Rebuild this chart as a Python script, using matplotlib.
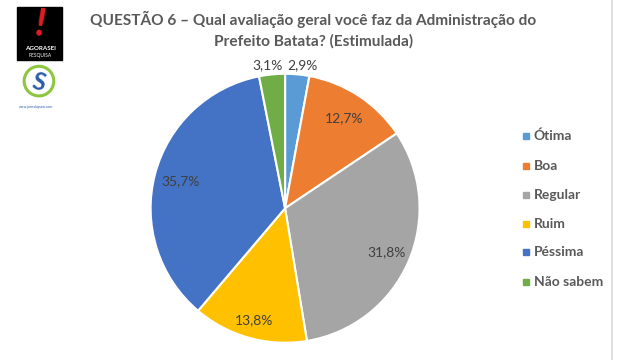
import matplotlib.pyplot as plt
import numpy as np
from matplotlib.patches import Rectangle, Circle

labels = ['Ótima', 'Boa', 'Regular', 'Ruim', 'Péssima', 'Não sabem']
values = [2.9, 12.7, 31.8, 13.8, 35.7, 3.1]
colors = ['#5B9BD5', '#ED7D31', '#A5A5A5', '#FFC000', '#4472C4', '#70AD47']
label_dist = [1.07, 0.8, 0.82, 0.86, 0.8, 1.07]

title = 'QUESTÃO 6 – Qual avaliação geral você faz da Administração do\nPrefeito Batata? (Estimulada)'
TEXT_COLOR = '#595959'

plt.rcParams['font.family'] = ['Lato', 'DejaVu Sans']

fig = plt.figure(figsize=(6.3, 3.6), dpi=100)

# pie
ax = fig.add_axes([0.239, 0.048, 0.427, 0.747])
wedges, _ = ax.pie(values, colors=colors, startangle=90, counterclock=False,
                   wedgeprops=dict(edgecolor='white', linewidth=1.5))
ax.set_xlim(-1, 1)
ax.set_ylim(-1, 1)
ax.set_aspect('equal')
for w, v, d in zip(wedges, values, label_dist):
    ang = np.deg2rad((w.theta1 + w.theta2) / 2)
    txt = f'{v:.1f}%'.replace('.', ',')
    if d > 1:
        # outside labels sit beside the top, away from each other
        side = 1 if np.cos(ang) > 0 else -1
        ax.text(0.02 * side, d * np.sin(ang), txt, ha='left' if side > 0 else 'right',
                va='center', fontsize=10, color='#404040')
    else:
        ax.text(d * np.cos(ang), d * np.sin(ang), txt,
                ha='center', va='center', fontsize=10, color='#404040')

# legend
ys = [136, 166, 195, 224, 252, 282]
for lab, col, y in zip(labels, colors, ys):
    yf = 1 - y / 360
    fig.patches.append(Rectangle((523 / 630, yf - 3 / 360), 6 / 630, 6 / 360,
                                 transform=fig.transFigure, color=col))
    fig.text(534 / 630, yf, lab, ha='left', va='center', fontsize=10,
             fontweight='bold', color=TEXT_COLOR)

fig.text(0.497, 1 - 30 / 360, title, ha='center', va='center', fontsize=11.1,
         fontweight='bold', color=TEXT_COLOR, linespacing=1.5)

# right border line
fig.add_artist(plt.Line2D([612 / 630, 612 / 630], [0, 1], color='#D9D9D9', lw=1.2))

# logos (rough)
fig.patches.append(Rectangle((17 / 630, 1 - 60 / 360), 45 / 630, 53 / 360,
                             transform=fig.transFigure, color='black'))
fig.text(40 / 630, 1 - 25 / 360, '!', ha='center', va='center', fontsize=28,
         fontweight='bold', color='#E31E24', rotation=-10)
fig.text(40 / 630, 1 - 49 / 360, 'AGORASEI', ha='center', va='center',
         fontsize=4.5, fontweight='bold', color='white')
fig.text(40 / 630, 1 - 56 / 360, 'PESQUISA', ha='center', va='center',
         fontsize=3.5, color='white')
lax = fig.add_axes([16 / 630, 1 - 102 / 360, 44 / 630, 38 / 360])
lax.set_xlim(-1, 1)
lax.set_ylim(-1, 1)
lax.set_aspect('equal')
lax.axis('off')
lax.add_patch(Circle((0.05, 0.1), 0.78, fill=False, ec='#8DC63F', lw=2.2))
lax.text(0.05, 0.05, 'S', ha='center', va='center', fontsize=17,
         fontweight='bold', color='#2A5CA8', rotation=-15)
fig.text(36 / 630, 1 - 107 / 360, 'www.jornalapuro.com', ha='center',
         va='center', fontsize=2.5, color='#2A5CA8')

fig.savefig('out.png', dpi=100)
